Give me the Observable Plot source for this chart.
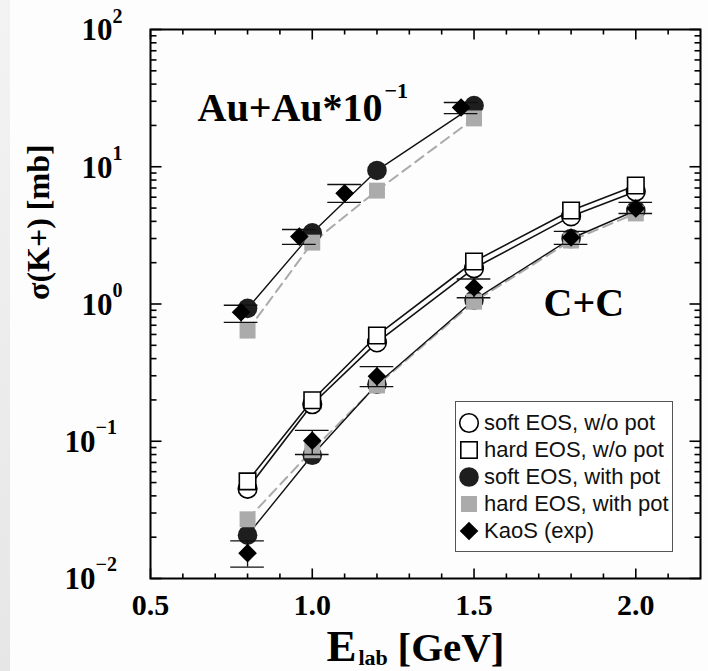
<!DOCTYPE html>
<html>
<head>
<meta charset="utf-8">
<script src="https://cdn.jsdelivr.net/npm/d3@7"></script>
<script src="https://cdn.jsdelivr.net/npm/@observablehq/plot@0.6"></script>
<style>
  body { margin: 0; background: #fff; }
  #wrap { position: relative; width: 708px; height: 671px; overflow: hidden; background: #fdfdfd; }
  #strip { position: absolute; left: 0; top: 0; width: 10px; height: 671px; background: linear-gradient(#f3f3f3, #e6e6e6); }
  .legend {
    position: absolute; left: 455px; top: 401px; width: 216px; height: 142px;
    padding-top: 7px; border: 1px solid #555; background: #fff;
    font-family: "Liberation Sans", Arial, sans-serif; font-size: 22px; color: #111;
  }
  .row { display: flex; align-items: center; height: 27px; white-space: nowrap; }
  .row svg { width: 26px; height: 26px; margin-right: 2px; flex: none; }
</style>
</head>
<body>
<div id="wrap">
  <div id="strip"></div>
  <div id="chart"></div>
  <div class="legend" id="legend"></div>
</div>
<script>
// C+C: K+ production cross sections vs beam energy
const ccEnergy    = [0.8, 1.0, 1.2, 1.5, 1.8, 2.0];
const ccSoftNoPot = [0.045, 0.186, 0.525, 1.82, 4.35, 6.6];
const ccHardNoPot = [0.051, 0.199, 0.59, 2.04, 4.8, 7.3];
const ccSoftPot   = [0.0207, 0.079, 0.26, 1.07, 3.0, 4.8];
const ccHardPot   = [0.027, 0.086, 0.255, 1.04, 2.9, 4.57];
const ccExp       = [0.0153, 0.101, 0.297, 1.32, 3.05, 4.97];
const ccExpLo     = [0.0121, 0.080, 0.25, 1.11, 2.72, 4.56];
const ccExpHi     = [0.0188, 0.12, 0.35, 1.52, 3.38, 5.5];

// Au+Au (scaled by 10^-1)
const auEnergy    = [0.8, 1.0, 1.2, 1.5];
const auSoftPot   = [0.93, 3.3, 9.4, 27.9];
const auHardPot   = [0.64, 2.8, 6.7, 22.5];
const auExpEnergy = [0.78, 0.96, 1.1, 1.46];
const auExp       = [0.87, 3.1, 6.4, 27];
const auExpLo     = [0.735, 2.72, 5.5, 24.4];
const auExpHi     = [0.98, 3.49, 7.43, 29.4];

// axis ticks and labels
const xTickLabels = [0.5, 1.0, 1.5, 2.0];
const xMinorTicks = [0.6, 0.7, 0.8, 0.9, 1.1, 1.2, 1.3, 1.4, 1.6, 1.7, 1.8, 1.9, 2.1];
const yDecades    = [-2, -1, 0, 1, 2];
const yMinorMult  = [2, 3, 4, 5, 6, 7, 8, 9];

const legendLabels = ["soft EOS, w/o pot", "hard EOS, w/o pot", "soft EOS, with pot", "hard EOS, with pot", "KaoS (exp)"];

const series = (E, v) => E.map((e, i) => ({E: e, v: v[i]}));
const withErrors = (E, v, lo, hi) => E.map((e, i) => ({E: e, v: v[i], lo: lo[i], hi: hi[i]}));

const ccSoftNoPotData = series(ccEnergy, ccSoftNoPot);
const ccHardNoPotData = series(ccEnergy, ccHardNoPot);
const ccSoftPotData   = series(ccEnergy, ccSoftPot);
const ccHardPotData   = series(ccEnergy, ccHardPot);
const auSoftPotData   = series(auEnergy, auSoftPot);
const auHardPotData   = series(auEnergy, auHardPot);
const expData = [
  ...withErrors(ccEnergy, ccExp, ccExpLo, ccExpHi),
  ...withErrors(auExpEnergy, auExp, auExpLo, auExpHi)
];

const yMajor = yDecades.map(e => Math.pow(10, e));
const yMinor = yDecades.slice(0, -1).flatMap(e => yMinorMult.map(k => k * Math.pow(10, e)));

// short line segments used as inward tick marks
const seg = (dx, dy) => ({draw(ctx) { ctx.moveTo(0, 0); ctx.lineTo(dx, dy); }});
const tickStyle = {stroke: "black", fill: "none", strokeWidth: 1.6, strokeLinecap: "butt"};

const serif = "'Liberation Serif', 'Times New Roman', serif";
const capHalf = 0.052; // half width of error-bar caps, in GeV

const black = "#111";
const darkFill = "#1e1e1e";
const grayFill = "#ababab";

const chart = Plot.plot({
  width: 708,
  height: 671,
  marginLeft: 150,
  marginRight: 8,
  marginTop: 29,
  marginBottom: 93,
  style: {background: "transparent", overflow: "visible"},
  x: {domain: [0.5, 2.2], axis: null},
  y: {type: "log", domain: [0.01, 100], axis: null},
  marks: [
    // inward ticks on all four sides
    Plot.dotX(xTickLabels, {frameAnchor: "bottom", symbol: seg(0, -10), ...tickStyle}),
    Plot.dotX(xMinorTicks, {frameAnchor: "bottom", symbol: seg(0, -5), ...tickStyle}),
    Plot.dotX(xTickLabels, {frameAnchor: "top", symbol: seg(0, 10), ...tickStyle}),
    Plot.dotX(xMinorTicks, {frameAnchor: "top", symbol: seg(0, 5), ...tickStyle}),
    Plot.dotY(yMajor, {frameAnchor: "left", symbol: seg(11, 0), ...tickStyle}),
    Plot.dotY(yMinor, {frameAnchor: "left", symbol: seg(6, 0), ...tickStyle}),
    Plot.dotY(yMajor, {frameAnchor: "right", symbol: seg(-11, 0), ...tickStyle}),
    Plot.dotY(yMinor, {frameAnchor: "right", symbol: seg(-6, 0), ...tickStyle}),
    Plot.frame({stroke: "black", strokeWidth: 2}),

    // model curves
    Plot.line(ccHardPotData, {x: "E", y: "v", stroke: "#aaa", strokeWidth: 2, strokeDasharray: "10,6"}),
    Plot.line(auHardPotData, {x: "E", y: "v", stroke: "#aaa", strokeWidth: 2, strokeDasharray: "10,6"}),
    Plot.line(ccSoftPotData, {x: "E", y: "v", stroke: black, strokeWidth: 1.4}),
    Plot.line(auSoftPotData, {x: "E", y: "v", stroke: black, strokeWidth: 1.4}),
    Plot.line(ccSoftNoPotData, {x: "E", y: "v", stroke: black, strokeWidth: 1.6}),
    Plot.line(ccHardNoPotData, {x: "E", y: "v", stroke: black, strokeWidth: 1.6}),

    // model points
    Plot.dot([...ccSoftPotData, ...auSoftPotData], {x: "E", y: "v", symbol: "circle", r: 9.8, fill: darkFill, stroke: "none"}),
    Plot.dot([...ccHardPotData, ...auHardPotData], {x: "E", y: "v", symbol: "square", r: 9, fill: grayFill, stroke: "none"}),
    Plot.dot(ccSoftNoPotData, {x: "E", y: "v", symbol: "circle", r: 9.3, fill: "white", stroke: "black", strokeWidth: 1.6}),
    Plot.dot(ccHardNoPotData, {x: "E", y: "v", symbol: "square", r: 9.3, fill: "white", stroke: "black", strokeWidth: 1.6}),

    // measured data with error bars
    Plot.ruleX(expData, {x: "E", y1: "lo", y2: "hi", stroke: black, strokeWidth: 1.3}),
    Plot.ruleY(expData, {y: "lo", x1: d => d.E - capHalf, x2: d => d.E + capHalf, stroke: black, strokeWidth: 1.4}),
    Plot.ruleY(expData, {y: "hi", x1: d => d.E - capHalf, x2: d => d.E + capHalf, stroke: black, strokeWidth: 1.4}),
    Plot.dot(expData, {x: "E", y: "v", symbol: "diamond2", r: 8.4, fill: "black", stroke: "none"}),

    // x tick labels
    Plot.text(xTickLabels, {x: d => d, frameAnchor: "bottom", text: d => d.toFixed(1), lineAnchor: "middle", dy: 27,
      fontFamily: serif, fontWeight: "bold", fontSize: 30, fill: "black"}),

    // y tick labels: 10 with a raised exponent
    Plot.text(yMajor.filter(v => v >= 1), {y: d => d, frameAnchor: "left", text: () => "10", textAnchor: "end", lineAnchor: "middle",
      dx: -38, dy: 1, fontFamily: serif, fontWeight: "bold", fontSize: 31, fill: "black"}),
    Plot.text(yMajor.filter(v => v >= 1), {y: d => d, frameAnchor: "left", text: d => String(Math.round(Math.log10(d))), textAnchor: "start", lineAnchor: "middle",
      dx: -38, dy: -13, fontFamily: serif, fontWeight: "bold", fontSize: 20, fill: "black"}),
    Plot.text(yMajor.filter(v => v < 1), {y: d => d, frameAnchor: "left", text: () => "10", textAnchor: "end", lineAnchor: "middle",
      dx: -55, dy: 1, fontFamily: serif, fontWeight: "bold", fontSize: 31, fill: "black"}),
    Plot.text(yMajor.filter(v => v < 1), {y: d => d, frameAnchor: "left", text: d => "\u2212" + String(-Math.round(Math.log10(d))), textAnchor: "start", lineAnchor: "middle",
      dx: -55, dy: -14, fontFamily: serif, fontWeight: "bold", fontSize: 20, fill: "black"}),

    // axis titles
    Plot.text(["\u03c3(K+) [mb]"], {frameAnchor: "left", rotate: -90, dx: -112, dy: -4, lineAnchor: "middle",
      fontFamily: serif, fontWeight: "bold", fontSize: 32, fill: "black"}),
    Plot.text(["E"], {frameAnchor: "bottom-left", dx: 176, dy: 82, textAnchor: "start", lineAnchor: "bottom",
      fontFamily: serif, fontWeight: "bold", fontSize: 45, fill: "black"}),
    Plot.text(["lab"], {frameAnchor: "bottom-left", dx: 208, dy: 86, textAnchor: "start", lineAnchor: "bottom",
      fontFamily: serif, fontWeight: "bold", fontSize: 22, fill: "black"}),
    Plot.text(["[GeV]"], {frameAnchor: "bottom-left", dx: 247, dy: 82, textAnchor: "start", lineAnchor: "bottom",
      fontFamily: serif, fontWeight: "bold", fontSize: 41, fill: "black"}),

    // system annotations
    Plot.text(["Au+Au*10"], {frameAnchor: "top-left", dx: 47, dy: 91, textAnchor: "start", lineAnchor: "bottom",
      fontFamily: serif, fontWeight: "bold", fontSize: 40, fill: "black"}),
    Plot.text(["\u22121"], {frameAnchor: "top-left", dx: 234, dy: 68, textAnchor: "start", lineAnchor: "bottom",
      fontFamily: serif, fontWeight: "bold", fontSize: 22, fill: "black"}),
    Plot.text(["C+C"], {frameAnchor: "top-left", dx: 393, dy: 286, textAnchor: "start", lineAnchor: "bottom",
      fontFamily: serif, fontWeight: "bold", fontSize: 40, fill: "black"})
  ]
});
document.getElementById("chart").appendChild(chart);

// legend
const legendSymbols = [
  '<circle cx="13" cy="13" r="9.3" fill="white" stroke="black" stroke-width="1.6"/>',
  '<rect x="4.8" y="4.8" width="16.4" height="16.4" fill="white" stroke="black" stroke-width="1.6"/>',
  '<circle cx="13" cy="13" r="9.8" fill="' + darkFill + '"/>',
  '<rect x="5" y="5" width="16" height="16" fill="' + grayFill + '"/>',
  '<polygon points="13,3.7 22.3,13 13,22.3 3.7,13" fill="black"/>'
];
const legend = document.getElementById("legend");
legendLabels.forEach((label, i) => {
  const row = document.createElement("div");
  row.className = "row";
  row.innerHTML = '<svg viewBox="0 0 26 26">' + legendSymbols[i] + '</svg><span>' + label + '</span>';
  legend.appendChild(row);
});
</script>
</body>
</html>
